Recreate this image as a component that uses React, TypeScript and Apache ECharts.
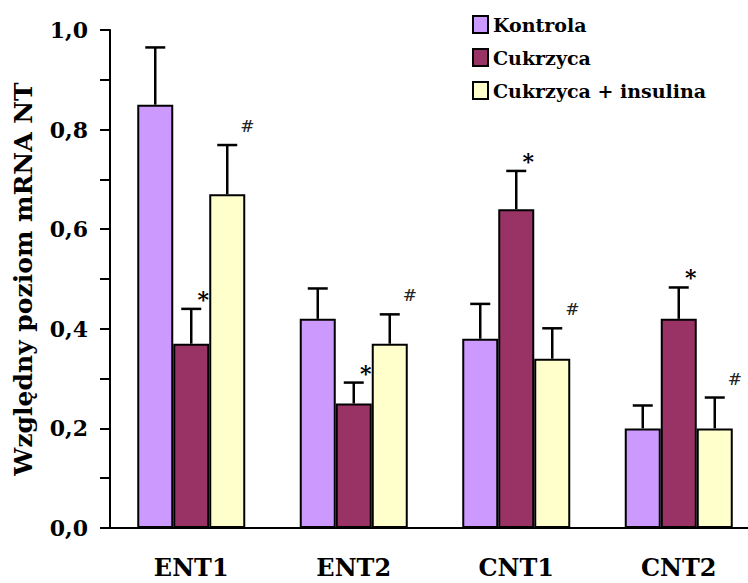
import React, { useEffect, useRef } from "react";
import * as echarts from "echarts";

const categories = ["ENT1", "ENT2", "CNT1", "CNT2"];
const seriesNames = ["Kontrola", "Cukrzyca", "Cukrzyca + insulina"];
const kontrola = [0.85, 0.42, 0.38, 0.2];
const cukrzyca = [0.37, 0.25, 0.64, 0.42];
const insulina = [0.67, 0.37, 0.34, 0.2];
const kontrolaErrTop = [0.965, 0.481, 0.45, 0.246];
const cukrzycaErrTop = [0.44, 0.292, 0.717, 0.483];
const insulinaErrTop = [0.769, 0.429, 0.401, 0.262];
const kontrolaMarks = ["", "", "", ""];
const cukrzycaMarks = ["*", "*", "*", "*"];
const insulinaMarks = ["#", "#", "#", "#"];
const yTicks = [0, 0.2, 0.4, 0.6, 0.8, 1.0];

const colors = ["#CC99FF", "#993366", "#FFFFCC"];
const FONT = "DejaVu Serif";
const BAR_W = 36;

export default function App() {
  const ref = useRef<HTMLDivElement>(null);
  useEffect(() => {
    if (!ref.current) return;
    const chart = echarts.init(ref.current, null, { renderer: "svg" });
    const values = [kontrola, cukrzyca, insulina];
    const errTops = [kontrolaErrTop, cukrzycaErrTop, insulinaErrTop];
    const marks = [kontrolaMarks, cukrzycaMarks, insulinaMarks];
    const errData: number[][] = [];
    values.forEach((arr, s) =>
      arr.forEach((v, i) => errData.push([i, v, errTops[s][i], s]))
    );
    chart.setOption({
      animation: false,
      backgroundColor: "#ffffff",
      grid: { left: 110, top: 30, width: 650, height: 498, outerBoundsMode: "none", containLabel: false },
      legend: {
        orient: "vertical",
        left: 467,
        top: 10,
        itemWidth: 15,
        itemHeight: 17,
        itemGap: 14,
        icon: "rect",
        data: seriesNames,
        textStyle: { fontFamily: FONT, fontWeight: "bold", fontSize: 19, color: "#000" },
      },
      xAxis: {
        type: "category",
        data: categories,
        axisLine: { lineStyle: { color: "#000", width: 2 } },
        axisTick: { show: false },
        axisLabel: {
          margin: 27,
          fontFamily: FONT,
          fontWeight: "bold",
          fontSize: 24,
          color: "#000",
        },
      },
      yAxis: {
        type: "value",
        min: yTicks[0],
        max: yTicks[yTicks.length - 1],
        interval: 0.2,
        name: "Względny poziom mRNA NT",
        nameLocation: "middle",
        nameRotate: 90,
        nameGap: 74,
        nameTextStyle: { fontFamily: FONT, fontWeight: "bold", fontSize: 25, color: "#000" },
        splitLine: { show: false },
        axisLine: { show: true, lineStyle: { color: "#000", width: 2 } },
        axisTick: { show: true, length: 10, lineStyle: { color: "#000", width: 2 } },
        minorTick: { show: true, splitNumber: 2, length: 10, lineStyle: { color: "#000", width: 2 } },
        axisLabel: {
          margin: 22,
          fontFamily: FONT,
          fontWeight: "bold",
          fontSize: 22,
          color: "#000",
          formatter: (v: number) => v.toFixed(1).replace(".", ","),
        },
      },
      series: [
        ...values.map((arr, s) => ({
          name: seriesNames[s],
          type: "bar",
          data: arr,
          barWidth: BAR_W,
          barGap: "0%",
          itemStyle: { color: colors[s], borderColor: "#000", borderWidth: 2 },
        })),
        {
          type: "custom",
          data: errData,
          z: 5,
          clip: false,
          renderItem: (params: any, api: any) => {
            const ci = api.value(0);
            const v = api.value(1);
            const e = api.value(2);
            const s = api.value(3);
            const base = api.coord([ci, v]);
            const top = api.coord([ci, e]);
            const x = base[0] + (s - 1) * BAR_W;
            const children: any[] = [
              { type: "line", shape: { x1: x, y1: base[1], x2: x, y2: top[1] }, style: { stroke: "#000", lineWidth: 2.5 } },
              { type: "line", shape: { x1: x - 10, y1: top[1], x2: x + 10, y2: top[1] }, style: { stroke: "#000", lineWidth: 2.5 } },
            ];
            const m = marks[s][ci];
            if (m === "*") {
              children.push({
                type: "text",
                x: x + 12,
                y: top[1] - 10,
                style: { text: m, fontFamily: FONT, fontWeight: "bold", fontSize: 22, fill: "#000", align: "center", verticalAlign: "middle" },
              });
            } else if (m === "#") {
              children.push({
                type: "text",
                x: x + 20,
                y: top[1] - 19,
                style: { text: m, fontFamily: FONT, fontSize: 17, fill: "#222", align: "center", verticalAlign: "middle" },
              });
            }
            return { type: "group", children };
          },
        },
      ],
    });
    return () => chart.dispose();
  }, []);
  return <div ref={ref} style={{ position: "fixed", left: 0, top: 0, width: 748, height: 583 }} />;
}
